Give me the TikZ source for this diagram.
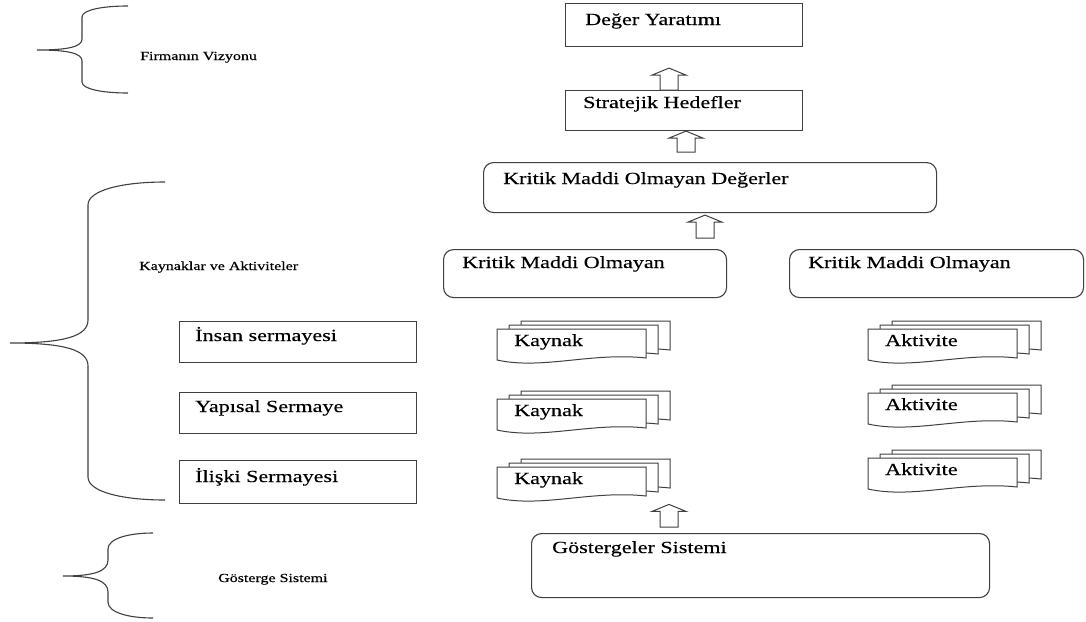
\documentclass[tikz,border=0pt]{standalone}
\usepackage{fontspec}
\setmainfont{Liberation Serif}[FakeStretch=1.3, FakeBold=0.35]
\usetikzlibrary{calc}

\definecolor{linegray}{HTML}{404040}

\tikzset{
  box/.style={draw=linegray, line width=1.1pt, fill=white, inner sep=0pt, anchor=north west},
  roundbox/.style={box, rounded corners=10pt},
  boxtext/.style={anchor=base west, inner sep=0pt, font=\fontsize{17}{20}\selectfont, text=black},
  sidetext/.style={anchor=base west, inner sep=0pt, font=\fontsize{12.3}{14}\selectfont, text=black},
  brace/.style={draw=linegray, line width=1.1pt},
  hollow/.style={draw=linegray, line width=1pt, fill=white, line join=miter},
  page/.style={draw=linegray, line width=1pt, fill=white},
  pics/docstack/.style={code={
    \foreach \d in {2,1,0}
      \draw[page] ({12*\d},{-4*\d}) -- ++(149,0) -- ++(0,29)
        .. controls +(-54,-6) and +(45,10) .. ++(-149,2) -- cycle;
    \node[inner sep=0pt, minimum width=149pt, minimum height=31pt, anchor=north west] (-front) at (0,0) {};
    \node[boxtext] (-text) at (17,17) {#1};
  }},
}

% curly brace: x end, x stem, x tip, y top, y tip, y bottom, curl size
\newcommand\curly[7]{%
  \draw[brace] (#1,#4) .. controls ({#2+0.45*(#1-#2)},#4) and (#2,{#4+0.35*#7}) .. (#2,{#4+#7})
    -- (#2,{#5-#7}) .. controls (#2,{#5-0.3*#7}) and ({#2-0.3*(#2-#3)},#5) .. (#3,#5)
    .. controls ({#2-0.3*(#2-#3)},#5) and (#2,{#5+0.3*#7}) .. (#2,{#5+#7})
    -- (#2,{#6-#7}) .. controls (#2,{#6-0.35*#7}) and ({#2+0.45*(#1-#2)},#6) .. (#1,#6);}

% hollow upward block arrow: centre x, lower node, gap below, upper node, gap above
\newcommand\liftarrow[5]{%
  \draw[hollow] let \p1=(#2.north), \p2=(#4.south) in
    ({(#1-9)*1pt},{\y1+#3*1pt}) -- ({(#1-9)*1pt},{\y2-#5*1pt-7pt})
    -- ({(#1-17)*1pt},{\y2-#5*1pt-7pt}) -- ({#1*1pt},{\y2-#5*1pt})
    -- ({(#1+17)*1pt},{\y2-#5*1pt-7pt}) -- ({(#1+9)*1pt},{\y2-#5*1pt-7pt})
    -- ({(#1+9)*1pt},{\y1+#3*1pt}) -- cycle;}

\begin{document}
\begin{tikzpicture}[x=1pt,y=-1pt]
\path[use as bounding box, fill=white] (0,0) rectangle (1086,621);

% value chain boxes
\node[box, minimum width=237pt, minimum height=43pt] (deger) at (565,3) {};
\node[boxtext] (degerT) at ([shift={(20,22)}]deger.north west) {Değer Yaratımı};

\node[box, minimum width=237pt, minimum height=40pt] (strat) at (565,90) {};
\node[boxtext] (stratT) at ([shift={(18,18)}]strat.north west) {Stratejik Hedefler};

\node[roundbox, minimum width=453pt, minimum height=50pt] (kdeg) at (483,162) {};
\node[boxtext] (kdegT) at ([shift={(20,22)}]kdeg.north west) {Kritik Maddi Olmayan Değerler};

\node[roundbox, minimum width=283pt, minimum height=48pt] (kleft) at (443,249) {};
\node[boxtext] (kleftT) at ([shift={(19,19)}]kleft.north west) {Kritik Maddi Olmayan};

\node[roundbox, minimum width=294pt, minimum height=48pt] (kright) at (789,249) {};
\node[boxtext] (krightT) at ([shift={(19,19)}]kright.north west) {Kritik Maddi Olmayan};

% capital boxes
\node[box, minimum width=237pt, minimum height=41pt] (insan) at (179,321) {};
\node[boxtext] (insanT) at ([shift={(16,20)}]insan.north west) {İnsan sermayesi};

\node[box, minimum width=237pt, minimum height=41pt] (yapisal) at (179,392) {};
\node[boxtext] (yapisalT) at ([shift={(16,20)}]yapisal.north west) {Yapısal Sermaye};

\node[box, minimum width=237pt, minimum height=43pt] (iliski) at (179,460) {};
\node[boxtext] (iliskiT) at ([shift={(16,22)}]iliski.north west) {İlişki Sermayesi};

% document stacks
\pic (k1) at (497,329) {docstack=Kaynak};
\pic (k2) at (497,399) {docstack=Kaynak};
\pic (k3) at (497,467) {docstack=Kaynak};
\pic (a1) at (868,329) {docstack=Aktivite};
\pic (a2) at (868,393) {docstack=Aktivite};
\pic (a3) at (868,458) {docstack=Aktivite};

% indicator system
\node[roundbox, minimum width=458pt, minimum height=64pt] (goster) at (531,533) {};
\node[boxtext] (gosterT) at ([shift={(21,20)}]goster.north west) {Göstergeler Sistemi};

% upward block arrows
\liftarrow{669}{strat}{0}{deger}{21}
\liftarrow{686}{kdeg}{10}{strat}{0}
\liftarrow{705}{kleft}{11}{kdeg}{2}
\liftarrow{669}{goster}{6}{k3-front}{6}

% level braces and their labels
\curly{128}{82}{37}{6}{50}{93}{11}
\curly{165}{88}{10}{182}{343}{500}{23}
\curly{153}{108}{63}{533}{576}{618}{16}

\node[sidetext] (vizyon) at (140,60) {Firmanın Vizyonu};
\node[sidetext] (kaynaklar) at (139,270) {Kaynaklar ve Aktiviteler};
\node[sidetext] (gosterge) at (218,582) {Gösterge Sistemi};
\end{tikzpicture}
\end{document}
